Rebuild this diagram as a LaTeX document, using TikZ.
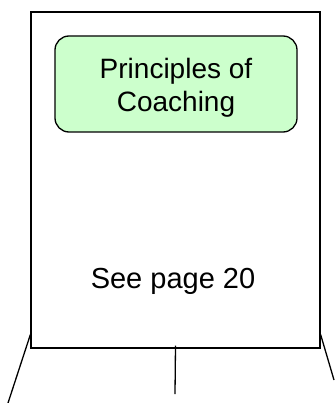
\documentclass[tikz,border=0pt]{standalone}
\usepackage{fontspec}
\setmainfont{Liberation Sans}
\usetikzlibrary{positioning}
\definecolor{mintfill}{HTML}{CCFFCC}
\tikzstyle{page}=[rectangle,draw=black,line width=1.3pt,inner sep=0pt]
\tikzstyle{topic}=[rectangle,rounded corners=14pt,fill=mintfill,draw=black,line width=1.3pt,inner sep=0pt]
\tikzstyle{topictext}=[align=center,inner sep=0pt,font=\fontsize{28}{33}\selectfont]
\tikzstyle{note}=[inner sep=0pt,font=\fontsize{29}{33}\selectfont]
\tikzstyle{leg}=[draw=black,line width=1.3pt]

\begin{document}
\begin{tikzpicture}[x=1pt,y=-1pt]
	\useasboundingbox (0, 0) rectangle (334, 403);
	\node [style=page, minimum width=289pt, minimum height=336pt] (0) at (175.5, 180) {};
	\node [style=topic, minimum width=242pt, minimum height=96pt] (1) at (176, 84) {};
	\node [style=topictext] (9) at ([yshift=-4pt]1.center) {Principles of\\Coaching};
	\node [style=note, anchor=base] (2) at (173, 288) {See page 20};
	\coordinate (3) at (8, 403);
	\coordinate (4) at (175, 394);
	\coordinate (5) at (334, 380);
	\coordinate (6) at ([yshift=14pt]0.south west);
	\coordinate (7) at ([yshift=14pt]0.south east);
	\coordinate (8) at ([yshift=3pt]0.south);
	\draw [style=leg] (6) to (3);
	\draw [style=leg] (8) to (4);
	\draw [style=leg] (7) to (5);
\end{tikzpicture}
\end{document}
